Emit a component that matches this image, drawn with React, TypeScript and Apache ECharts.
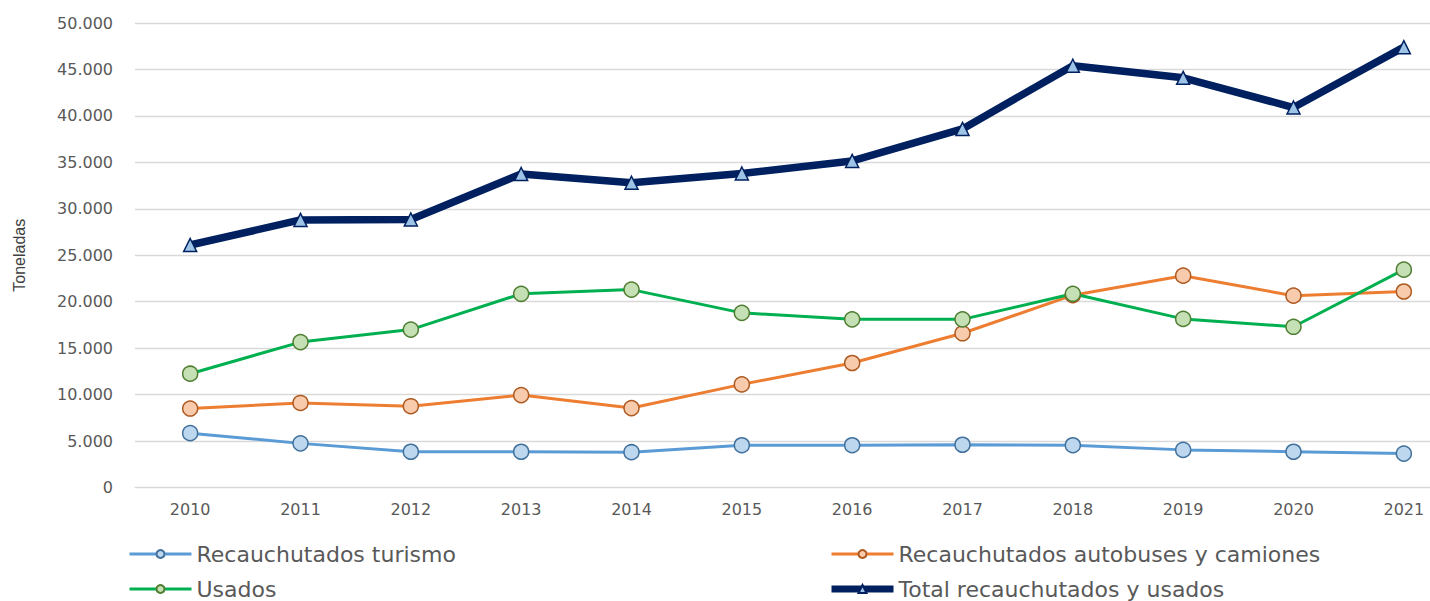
import React, { useEffect, useRef } from "react";
import * as echarts from "echarts";

const years = ["2010", "2011", "2012", "2013", "2014", "2015", "2016", "2017", "2018", "2019", "2020", "2021"];
const turismo = [5850, 4750, 3850, 3850, 3800, 4550, 4550, 4600, 4550, 4050, 3850, 3650];
const autobuses = [8500, 9100, 8750, 9950, 8550, 11100, 13400, 16600, 20700, 22800, 20650, 21100];
const usados = [12250, 15650, 17000, 20850, 21300, 18800, 18100, 18100, 20850, 18150, 17300, 23450];
const total = [26100, 28800, 28850, 33750, 32800, 33800, 35150, 38600, 45400, 44100, 40900, 47400];

const yTicks = { min: 0, max: 50000, interval: 5000 };

const fmt = (v: number) => (v === 0 ? "0" : v.toLocaleString("de-DE"));

export default function App() {
  const ref = useRef<HTMLDivElement>(null);
  useEffect(() => {
    document.body.style.margin = "0";
    const chart = echarts.init(ref.current!, undefined, { renderer: "svg" });
    const lineSeries = (
      name: string,
      data: number[],
      color: string,
      fill: string,
      border: string,
      width: number,
      symbol: string,
      size: number
    ) => ({
      name,
      type: "line",
      data,
      symbol,
      symbolSize: size,
      showAllSymbol: true,
      lineStyle: { color, width },
      itemStyle: { color: fill, borderColor: border, borderWidth: 1.5 },
      emphasis: { disabled: true },
      z: 2,
    });
    const legendText = { color: "#595959", fontSize: 22, fontFamily: "DejaVu Sans" };
    const legendBase = {
      orient: "vertical",
      top: 543,
      padding: 0,
      itemGap: 13,
      itemWidth: 62,
      itemHeight: 10,
      textStyle: legendText,
    };
    chart.setOption({
      animation: false,
      textStyle: { fontFamily: "DejaVu Sans" },
      grid: { left: 135, right: 11, top: 23, bottom: 113.5, containLabel: false },
      xAxis: {
        type: "category",
        data: years,
        boundaryGap: true,
        axisLine: { show: true, lineStyle: { color: "#d9d9d9", width: 1 } },
        axisTick: { show: false },
        axisLabel: { color: "#595959", fontSize: 16, margin: 14, fontFamily: "DejaVu Sans" },
      },
      yAxis: {
        type: "value",
        min: yTicks.min,
        max: yTicks.max,
        interval: yTicks.interval,
        name: "Toneladas",
        nameLocation: "middle",
        nameGap: 108,
        nameRotate: 90,
        nameTextStyle: { color: "#404040", fontSize: 16, fontFamily: "Liberation Sans" },
        axisLine: { show: false },
        axisTick: { show: false },
        splitLine: { lineStyle: { color: "#d9d9d9", width: 1.3 } },
        axisLabel: { color: "#595959", fontSize: 16, margin: 22, formatter: fmt, fontFamily: "DejaVu Sans" },
      },
      legend: [
        {
          ...legendBase,
          left: 128,
          data: [
            { name: "Recauchutados turismo", lineStyle: { width: 3 } },
            { name: "Usados", lineStyle: { width: 3 } },
          ],
        },
        {
          ...legendBase,
          left: 828,
          data: [
            { name: "Recauchutados autobuses y camiones", lineStyle: { width: 3 } },
            { name: "Total recauchutados y usados", lineStyle: { width: 7 } },
          ],
        },
      ],
      series: [
        lineSeries("Recauchutados turismo", turismo, "#5b9bd5", "#bdd7ee", "#41719c", 3, "circle", 15),
        lineSeries("Recauchutados autobuses y camiones", autobuses, "#ed7d31", "#f8cbad", "#ae5a21", 3, "circle", 15),
        lineSeries("Usados", usados, "#00b050", "#c5e0b4", "#507e32", 3, "circle", 15),
        lineSeries("Total recauchutados y usados", total, "#002060", "#9dc3e6", "#002060", 7.5, "triangle", 13),
      ],
    });
    return () => chart.dispose();
  }, []);
  return (
    <div style={{ width: 1430, height: 601, overflow: "hidden", position: "relative", background: "#fff" }}>
      <div ref={ref} style={{ width: 1470, height: 601, position: "absolute", left: 0, top: 0 }} />
    </div>
  );
}
